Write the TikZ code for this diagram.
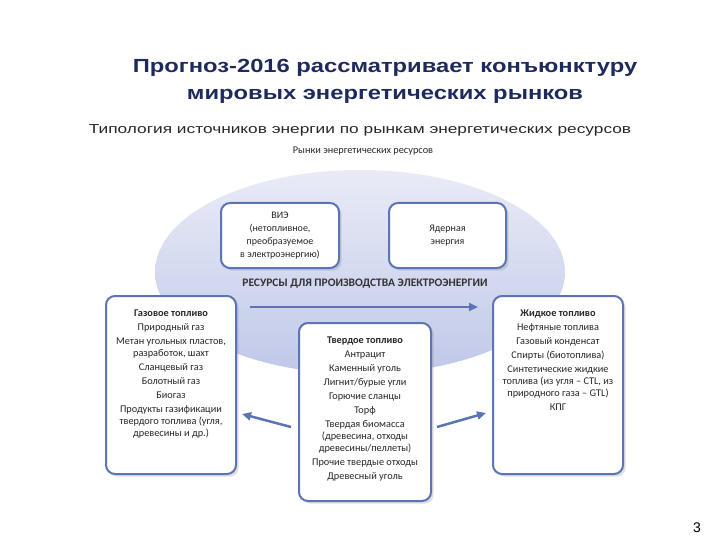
\documentclass[tikz,border=0pt]{standalone}
\usepackage{fontspec}
\setmainfont{Liberation Sans}
\newfontfamily\boxfont{Carlito}
\usetikzlibrary{arrows.meta,shadows}
\definecolor{edge}{HTML}{5A74B4}
\definecolor{ell}{HTML}{BFC8E8}
\definecolor{ttl}{HTML}{1F2A5C}
\begin{document}
\begin{tikzpicture}[x=1pt,y=-1pt,
  box/.style={draw=edge,line width=2pt,rounded corners=9pt,fill=white,drop shadow={opacity=0.25},align=center,anchor=north west,inner sep=0pt},
  txt/.style={font=\boxfont\fontsize{10.3}{14}\selectfont,align=center,text=black!85},
  arr/.style={draw=edge,line width=2.5pt,-{Triangle[length=9pt,width=8pt]}}]
\useasboundingbox (0,0) rectangle (720,540);
\node[font=\bfseries\fontsize{19}{27}\selectfont,text=ttl,align=center] (t1) at (385,81) {\scalebox{1.25}[1]{Прогноз-2016 рассматривает конъюнктуру}\\\scalebox{1.25}[1]{мировых энергетических рынков}};
\node[font=\fontsize{13}{14}\selectfont,text=black!85] (t2) at (360,130) {\scalebox{1.33}[1]{Типология источников энергии по рынкам энергетических ресурсов}};
\node[txt] (mk) at (363,151) {Рынки энергетических ресурсов};
\shade[top color=ell!35,bottom color=ell] (360,272) ellipse [x radius=205,y radius=102];
\node[font=\boxfont\bfseries\fontsize{11.5}{12}\selectfont,text=black!80] (res) at (365,284) {РЕСУРСЫ ДЛЯ ПРОИЗВОДСТВА ЭЛЕКТРОЭНЕРГИИ};
\node[box,minimum width=118pt,minimum height=65pt] (vie) at (220,202) {};
\node[txt,font=\boxfont\fontsize{10}{13}\selectfont] at (vie.center) {ВИЭ\\(нетопливное,\\преобразуемое\\в электроэнергию)};
\node[box,minimum width=117pt,minimum height=65pt] (nuc) at (388,202) {};
\node[txt,font=\boxfont\fontsize{10}{13}\selectfont] at (nuc.center) {Ядерная\\энергия};
\coordinate (ls) at (250,307);
\coordinate (le) at (478,307);
\draw[arr] (ls) -- (le);
\node[box,minimum width=130pt,minimum height=178pt] (gas) at (105,295) {};
\node[txt,anchor=north] at ([yshift=-11pt]gas.north) {\textbf{Газовое топливо}\\Природный газ\\Метан угольных пластов,\\[-2pt]разработок, шахт\\Сланцевый газ\\Болотный газ\\Биогаз\\Продукты газификации\\[-2pt]твердого топлива (угля,\\[-2pt]древесины и др.)};
\node[box,minimum width=130pt,minimum height=178pt] (liq) at (492,295) {};
\node[txt,anchor=north] at ([yshift=-11pt]liq.north) {\textbf{Жидкое топливо}\\Нефтяные топлива\\Газовый конденсат\\Спирты (биотоплива)\\Синтетические жидкие\\[-2pt]топлива (из угля – CTL, из\\[-2pt]природного газа – GTL)\\КПГ};
\node[box,minimum width=132pt,minimum height=178pt] (sol) at (298,322) {};
\node[txt,anchor=north] at ([yshift=-11pt]sol.north) {\textbf{Твердое топливо}\\Антрацит\\Каменный уголь\\Лигнит/бурые угли\\Горючие сланцы\\Торф\\Твердая биомасса\\[-2pt](древесина, отходы\\[-2pt]древесины/пеллеты)\\Прочие твердые отходы\\Древесный уголь};
\coordinate (a1) at (291,427);
\coordinate (a2) at (242,414);
\coordinate (b1) at (437,427);
\coordinate (b2) at (486,413);
\draw[arr] (a1) -- (a2);
\draw[arr] (b1) -- (b2);
\node[font=\fontsize{14}{16}\selectfont] (pg) at (697,528) {3};
\end{tikzpicture}
\end{document}
